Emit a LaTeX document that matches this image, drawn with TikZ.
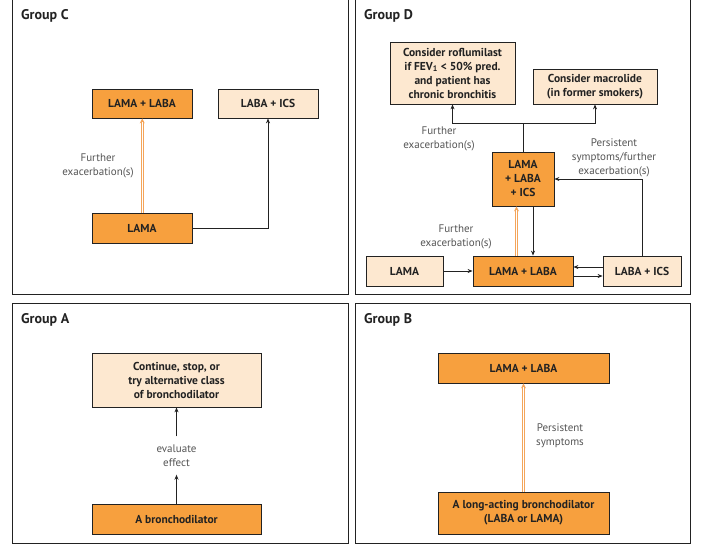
\documentclass[tikz,border=0pt]{standalone}
\usepackage{fontspec}
\setmainfont{PT Sans}
\usetikzlibrary{arrows.meta}
\definecolor{dark}{HTML}{F7A03E}
\definecolor{light}{HTML}{FDE8D0}
\definecolor{lblc}{HTML}{555555}
\definecolor{dbl}{HTML}{F4A55A}
\definecolor{ink}{HTML}{222222}
\begin{document}
\begin{tikzpicture}[x=1pt,y=-1pt,
 panel/.style={draw=ink, line width=0.9pt},
 box/.style={draw=ink, line width=0.8pt, align=center, inner sep=1pt, font=\fontsize{11.5}{14}\selectfont\bfseries, text=ink},
 darkbox/.style={box, fill=dark},
 lightbox/.style={box, fill=light},
 title/.style={font=\fontsize{14}{16}\selectfont\bfseries, anchor=west, text=ink, inner sep=0pt},
 lbl/.style={font=\fontsize{11}{14}\selectfont, text=lblc, align=center, inner sep=0pt},
 arr/.style={draw=ink, line width=0.8pt, -{Stealth[length=5pt,width=4pt]}},
 oarr/.style={draw=dbl, line width=1pt, double=white, double distance=1.3pt, -{Stealth[length=5pt,width=5pt]}}
]
\fill[white] (0,0) rectangle (709,544);
\useasboundingbox (0,0) rectangle (709,544);
% panels
\draw[panel] (12,-3) rectangle (348,294);
\draw[panel] (355,-3) rectangle (690,294);
\draw[panel] (12,303) rectangle (348,543);
\draw[panel] (355,303) rectangle (690,543);
\node[title] (tc) at (21,16) {Group C};
\node[title] (td) at (364,16) {Group D};
\node[title] (ta) at (21,320) {Group A};
\node[title] (tb) at (364,320) {Group B};
% Group C
\node[darkbox, minimum width=100, minimum height=29] (c1) at (142,103.5) {LAMA + LABA};
\node[lightbox, minimum width=100, minimum height=29] (c2) at (268,103.5) {LABA + ICS};
\node[darkbox, minimum width=100, minimum height=30] (c3) at (142,228) {LAMA};
\draw[oarr] ([xshift=0.3pt]c3.north) -- ([xshift=0.3pt]c1.south);
\node[lbl] (cl) at (98,166) {Further\\exacerbation(s)};
\draw[arr] (c3.east) -| (c2.south);
% Group D
\node[lightbox, minimum width=125, minimum height=62] (d1) at (452.5,73) {Consider roflumilast\\if FEV\textsubscript{1} < 50\% pred.\\and patient has\\chronic bronchitis};
\node[lightbox, minimum width=124, minimum height=35] (d2) at (595,86.5) {Consider macrolide\\(in former smokers)};
\node[darkbox, minimum width=62, minimum height=54] (d3) at (523,179) {LAMA\\+ LABA\\+ ICS};
\node[lightbox, minimum width=77, minimum height=30] (d4) at (404.5,271) {LAMA};
\node[darkbox, minimum width=100, minimum height=30] (d5) at (523,271) {LAMA + LABA};
\node[lightbox, minimum width=78, minimum height=30] (d6) at (642,271) {LABA + ICS};
\coordinate (j) at (523,123);
\draw[draw=ink, line width=0.8pt] (d3.north) -- (j);
\draw[arr] (j) -| (d1.south);
\draw[arr] (j) -| (d2.south);
\node[lbl] (dl1) at (439,138.5) {Further\\exacerbation(s)};
\node[lbl] (dl2) at (614,158) {Persistent\\symptoms/further\\exacerbation(s)};
\draw[arr] (d6.north) |- (d3.east);
\draw[arr] (d4.east) -- (d5.west);
\draw[oarr] ([xshift=-6.5pt]d5.north) -- ([xshift=-6.5pt]d3.south);
\draw[arr] ([xshift=10pt]d3.south) -- ([xshift=10pt]d5.north);
\draw[arr] ([yshift=4pt]d6.west) -- ([yshift=4pt]d5.east);
\draw[arr] ([yshift=-5pt]d5.east) -- ([yshift=-5pt]d6.west);
\node[lbl] (dl3) at (456,237) {Further\\exacerbation(s)};
% Group A
\node[lightbox, minimum width=169, minimum height=54] (a1) at (176.5,380) {Continue, stop, or\\try alternative class\\of bronchodilator};
\node[darkbox, minimum width=169, minimum height=30] (a2) at (176.5,519) {A bronchodilator};
\node[lbl, minimum height=38] (ae) at (176.5,455.5) {evaluate\\effect};
\draw[arr] (a2.north) -- (ae.south);
\draw[arr] (ae.north) -- (a1.south);
% Group B
\node[darkbox, minimum width=171, minimum height=30] (b1) at (523.5,368) {LAMA + LABA};
\node[darkbox, minimum width=171, minimum height=42] (b2) at (523.5,513) {A long-acting bronchodilator\\(LABA or LAMA)};
\draw[oarr] (b2.north) -- (b1.south);
\node[lbl] (bl) at (560,436) {Persistent\\symptoms};
\end{tikzpicture}
\end{document}
